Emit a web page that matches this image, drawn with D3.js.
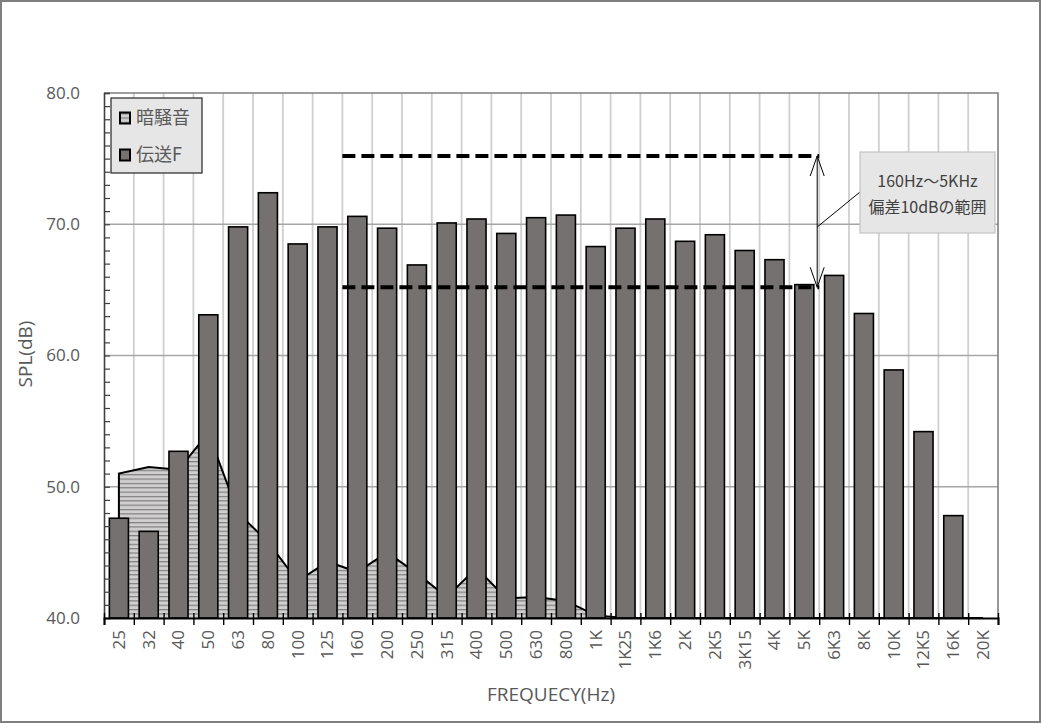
<!DOCTYPE html>
<html><head><meta charset="utf-8">
<script src="https://cdn.jsdelivr.net/npm/d3@7/dist/d3.min.js"></script>
<style>body{margin:0;background:#fff} svg{display:block}</style>
</head><body><svg id="c" width="1042" height="724"></svg>
<script>
const categories = ["25","32","40","50","63","80","100","125","160","200","250","315","400","500","630","800","1K","1K25","1K6","2K","2K5","3K15","4K","5K","6K3","8K","10K","12K5","16K","20K"];
const transmission = [47.6,46.6,52.7,63.1,69.8,72.4,68.5,69.8,70.6,69.7,66.9,70.1,70.4,69.3,70.5,70.7,68.3,69.7,70.4,68.7,69.2,68.0,67.3,65.4,66.1,63.2,58.9,54.2,47.8,40.0];
const backgroundNoise = [51.0,51.5,51.3,54.1,48.0,45.8,42.8,44.3,43.5,45.0,43.4,41.6,43.8,41.5,41.6,41.3,40.2,40,40,40,40,40,40,40,40,40,40,40,40,40];
const yTickValues = [40,50,60,70,80];
const deviationBand = [65.2, 75.2];
const bandCategories = ["160","5K"];
const seriesNames = ["暗騒音","伝送F"];
const annotationLines = ["160Hz～5KHz","偏差10dBの範囲"];
const axisTitles = {x:"FREQUECY(Hz)", y:"SPL(dB)"};

const svg = d3.select("#c");
const L=104, R=998, T=93, B=618;
const txt="#595959", sansFont="'Open Sans', sans-serif", jpFont="'Noto Sans CJK JP', sans-serif";

// pattern
const defs = svg.append("defs");
const pat = defs.append("pattern").attr("id","stripes").attr("patternUnits","userSpaceOnUse")
  .attr("width",8).attr("height",4.35);
pat.append("rect").attr("width",8).attr("height",4.35).attr("fill","#d0cece");
pat.append("rect").attr("y",0).attr("width",8).attr("height",1.2).attr("fill","#808080");

// outer border
svg.append("rect").attr("x",1).attr("y",1).attr("width",1039).attr("height",721)
  .attr("fill","#fff").attr("stroke","#7f7f7f").attr("stroke-width",2);

const pInner = 0.36;
const x = d3.scaleBand().domain(categories).range([L,R]).paddingInner(pInner).paddingOuter(pInner/2);
const step = x.step();
const cx = c => x(c) + x.bandwidth()/2;
const xb = d3.scaleLinear().domain([0,categories.length]).range([L,R]);
const y = d3.scaleLinear().domain([40,80]).range([B,T]);

// vertical grid
svg.append("g").selectAll("line").data(d3.range(1,categories.length)).join("line")
  .attr("x1",d=>xb(d)).attr("x2",d=>xb(d)).attr("y1",T).attr("y2",B)
  .attr("stroke","#cfcfcf").attr("stroke-width",1.8);
// horizontal grid
svg.append("g").selectAll("line").data(yTickValues.filter(v=>v>40 && v<80)).join("line")
  .attr("x1",L).attr("x2",R).attr("y1",d=>y(d)).attr("y2",d=>y(d))
  .attr("stroke","#a6a6a6").attr("stroke-width",1.6);
// plot border top/right
svg.append("path").attr("d",`M${L},${T}H${R}V${B}`).attr("fill","none").attr("stroke","#7f7f7f").attr("stroke-width",1.6);

// area
const areaData = categories.map((c,i)=>({c, v:backgroundNoise[i]}));
const area = d3.area().x(d=>cx(d.c)).y0(y(40)).y1(d=>y(d.v));
svg.append("path").datum(areaData).attr("d",area).attr("fill","url(#stripes)");
const line = d3.line().x(d=>cx(d.c)).y(d=>y(d.v));
svg.append("path").attr("d", `M${cx(categories[0])},${y(40)}` + line(areaData).replace(/^M/,"L"))
  .attr("fill","none").attr("stroke","#000").attr("stroke-width",2).attr("stroke-linejoin","miter");

// bars
svg.append("g").selectAll("rect").data(categories.map((c,i)=>({c,v:transmission[i]}))).join("rect")
  .attr("x",d=>x(d.c)).attr("width",x.bandwidth())
  .attr("y",d=>y(d.v)).attr("height",d=>y(40)-y(d.v))
  .attr("fill","#767171").attr("stroke","#000").attr("stroke-width",1.6);

// y axis
const yAxisG = svg.append("g").attr("transform",`translate(${L},0)`)
  .call(d3.axisLeft(y).tickValues(d3.range(40,81,1)).tickSize(-6).tickFormat(""));
yAxisG.select(".domain").attr("stroke","#404040").attr("stroke-width",1.6);
yAxisG.selectAll(".tick line").attr("stroke","#404040").attr("stroke-width",1.2);
const yLab = svg.append("g").attr("transform",`translate(${L},0)`)
  .call(d3.axisLeft(y).tickValues(yTickValues).tickFormat(d3.format(".1f")).tickSize(0).tickPadding(24));
yLab.select(".domain").remove();
yLab.selectAll("text").attr("fill",txt).style("font-family",sansFont).style("font-size","17px");

// x axis ticks
const xAxisG = svg.append("g").attr("transform",`translate(0,${B})`)
  .call(d3.axisBottom(xb).tickValues(d3.range(0,categories.length+1)).tickSize(7).tickFormat(""));
xAxisG.select(".domain").attr("stroke","#000").attr("stroke-width",2);
xAxisG.selectAll(".tick line").attr("y1",-5).attr("stroke","#000").attr("stroke-width",1.4);
const xLab = svg.append("g").attr("transform",`translate(0,${B})`)
  .call(d3.axisBottom(x).tickSize(0).tickPadding(0));
xLab.select(".domain").remove();
xLab.selectAll("text").attr("fill",txt).style("font-family",sansFont).style("font-size","17px")
  .attr("transform","rotate(-90)").attr("text-anchor","end").attr("x",-12).attr("y",0).attr("dy","0.35em");

// axis titles
svg.append("text").attr("x",551).attr("y",701).attr("text-anchor","middle")
  .attr("fill",txt).style("font-family",sansFont).style("font-size","19px").text(axisTitles.x);
svg.append("text").attr("transform","translate(32,354) rotate(-90)").attr("text-anchor","middle")
  .attr("fill",txt).style("font-family",sansFont).style("font-size","19px").text(axisTitles.y);

// dashed band lines
const bx0 = x(bandCategories[0]) - step*pInner/2, bx1 = x(bandCategories[1]) + x.bandwidth() + step*pInner/2;
svg.append("g").selectAll("line").data(deviationBand).join("line")
  .attr("x1",bx0).attr("x2",bx1).attr("y1",d=>y(d)).attr("y2",d=>y(d))
  .attr("stroke","#000").attr("stroke-width",4).attr("stroke-dasharray","13,6");

// double arrow
const ax = bx1 - 2, ay0 = y(deviationBand[1]), ay1 = y(deviationBand[0]);
svg.append("line").attr("x1",ax).attr("x2",ax).attr("y1",ay0).attr("y2",ay1).attr("stroke","#000").attr("stroke-width",1);
svg.append("path").attr("d",`M${ax-7},${ay0+20}L${ax},${ay0}L${ax+7},${ay0+20}M${ax-7},${ay1-20}L${ax},${ay1}L${ax+7},${ay1-20}`)
  .attr("fill","none").attr("stroke","#000").attr("stroke-width",1);

// callout
const bxL=860, bxT=152, bxW=135, bxH=81;
svg.append("line").attr("x1",ax).attr("y1",227).attr("x2",bxL).attr("y2",192).attr("stroke","#000").attr("stroke-width",1);
svg.append("rect").attr("x",bxL).attr("y",bxT).attr("width",bxW).attr("height",bxH)
  .attr("fill","#e6e6e6").attr("stroke","#c4c4c4").attr("stroke-width",1.2);
svg.append("g").selectAll("text").data(annotationLines).join("text")
  .attr("x",bxL+bxW/2).attr("y",(d,i)=>187+i*26).attr("text-anchor","middle")
  .attr("fill","#404040").style("font-family",jpFont).style("font-size","16px").text(d=>d);

// legend
const lg = svg.append("g");
lg.append("rect").attr("x",111).attr("y",98).attr("width",91).attr("height",75)
  .attr("fill","#e7e6e6").attr("stroke","#262626").attr("stroke-width",1.2);
const legendFills = ["url(#stripes)","#767171"];
seriesNames.forEach((n,i)=>{
  const cy = 118 + i*37;
  lg.append("rect").attr("x",120).attr("y",cy-5.5).attr("width",10).attr("height",11)
    .attr("fill",legendFills[i]).attr("stroke","#000").attr("stroke-width",2);
  lg.append("text").attr("x",136).attr("y",cy).attr("dy","0.35em").attr("fill",txt)
    .style("font-family",jpFont).style("font-size","18px").text(n);
});
</script></body></html>
